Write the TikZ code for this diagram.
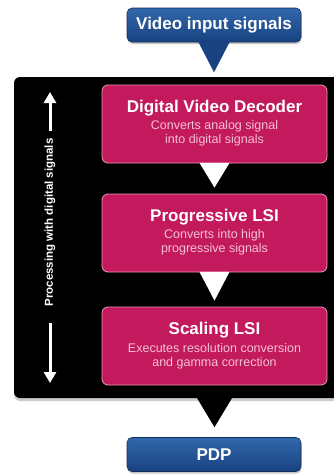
\documentclass[tikz,border=0pt]{standalone}
\usepackage{fontspec}
\setmainfont{Liberation Sans}
\usetikzlibrary{arrows.meta,calc,shadows}
\definecolor{mag}{RGB}{194,26,92}
\definecolor{magline}{RGB}{236,150,182}
\definecolor{subpink}{RGB}{246,192,212}
\definecolor{bluetop}{RGB}{50,104,172}
\definecolor{bluebot}{RGB}{24,66,128}
\begin{document}
\begin{tikzpicture}[x=1pt,y=-1pt,
  bluebox/.style={rounded corners=5pt, top color=bluetop, bottom color=bluebot,
    draw=bluebot!70!black, line width=0.6pt, minimum width=174pt, minimum height=34pt,
    text=white, font=\fontsize{17}{20}\selectfont\bfseries, inner sep=0pt,
    drop shadow={shadow xshift=0.5pt, shadow yshift=-2pt, opacity=0.45}},
  blackbox/.style={fill=black, rounded corners=6pt, minimum width=326pt, minimum height=321pt,
    drop shadow={shadow xshift=0pt, shadow yshift=-3pt, opacity=0.4}},
  magbox/.style={rounded corners=6pt, fill=mag, draw=magline, line width=0.8pt,
    minimum width=225pt, minimum height=78pt},
  ttl/.style={text=white, font=\fontsize{17}{20}\selectfont\bfseries, inner sep=0pt},
  subtxt/.style={text=subpink, font=\fontsize{12.5}{14}\selectfont, align=center, inner sep=0pt},
  lbl/.style={text=white, font=\fontsize{11.5}{13}\selectfont\bfseries, inner sep=0pt},
  warrow/.style={draw=white, line width=3pt, -{Triangle[width=12pt,length=11pt]}},
  pointer/.style={draw=none}
]
\useasboundingbox (0,0) rectangle (334,475);
\clip (0,0) rectangle (334,475);
\fill[white] (0,0) rectangle (334,475);

% top callout
\node[bluebox] (vin) at (214,25) {Video input signals};
\fill[bluebot] ($(vin.south)+(-16,-1)$) -- ($(vin.south)+(16,-1)$) -- ($(vin.south)+(0,30)$) -- cycle;

% black processing box
\node[blackbox] (proc) at (177,237.5) {};

% magenta boxes
\node[magbox] (b1) at (214.5,124) {};
\node[magbox] (b2) at (214.5,233) {};
\node[magbox] (b3) at (214.5,346) {};

\node[ttl] (t1) at ($(b1.center)+(0,-16)$) {Digital Video Decoder};
\node[subtxt] (s1) at ($(b1.center)+(0,9)$) {Converts analog signal\\into digital signals};
\node[ttl] (t2) at ($(b2.center)+(0,-16)$) {Progressive LSI};
\node[subtxt] (s2) at ($(b2.center)+(0,9.5)$) {Converts into high\\progressive signals};
\node[ttl] (t3) at ($(b3.center)+(0,-16)$) {Scaling LSI};
\node[subtxt] (s3) at ($(b3.center)+(0,10)$) {Executes resolution conversion\\and gamma correction};

% white pointers between boxes
\fill[white] ($(b1.south)+(-15,-0.5)$) -- ($(b1.south)+(15,-0.5)$) -- ($(b2.north)+(0,-6)$) -- cycle;
\fill[white] ($(b2.south)+(-15,-0.5)$) -- ($(b2.south)+(15,-0.5)$) -- ($(b3.north)+(0,-6)$) -- cycle;

% left label and arrows
\node[lbl, rotate=90] (lab) at (50,222.5) {Processing with digital signals};
\coordinate (ut0) at (50,131);
\coordinate (ut1) at (50,92);
\coordinate (dt0) at (50,323);
\coordinate (dt1) at (50,383);
\draw[warrow] (ut0) -- (ut1);
\draw[warrow] (dt0) -- (dt1);

% black pointer to PDP
\fill[black] ($(proc.south -| b3.south)+(-18,-1)$) -- ($(proc.south -| b3.south)+(18,-1)$) -- ($(proc.south -| b3.south)+(0,29)$) -- cycle;

% PDP
\node[bluebox] (pdp) at (214,454.5) {PDP};
\end{tikzpicture}
\end{document}
